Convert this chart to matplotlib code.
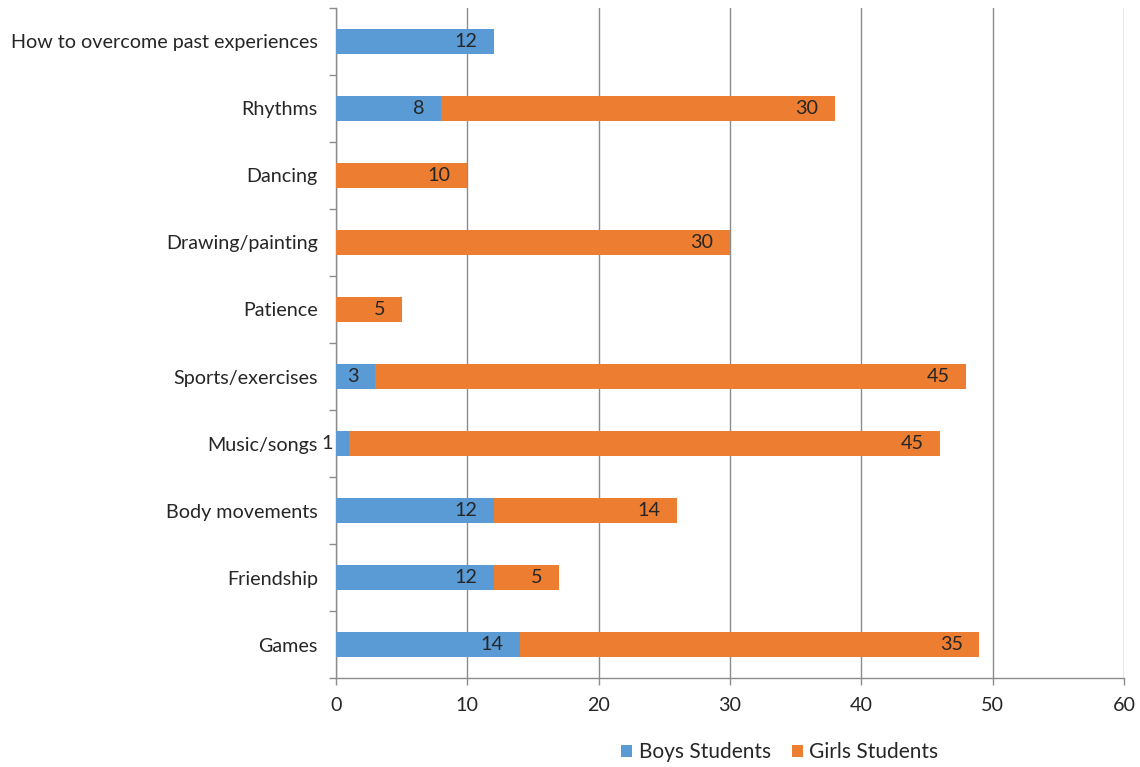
import matplotlib
matplotlib.use("Agg")
import matplotlib.pyplot as plt
import numpy as np

# categories listed bottom to top
categories = [
    "Games",
    "Friendship",
    "Body movements",
    "Music/songs",
    "Sports/exercises",
    "Patience",
    "Drawing/painting",
    "Dancing",
    "Rhythms",
    "How to overcome past experiences",
]
boys = [14, 12, 12, 1, 3, 0, 0, 0, 8, 12]
girls = [35, 5, 14, 45, 45, 5, 30, 10, 30, 0]
x_ticks = [0, 10, 20, 30, 40, 50, 60]

BLUE = "#5B9BD5"
ORANGE = "#ED7D31"
GRID = "#8c8c8c"
TEXT = "#262626"
FS = 14.2

plt.rcParams["font.family"] = ["Lato", "DejaVu Sans"]

fig = plt.figure(figsize=(11.4, 7.67), dpi=100)
ax = fig.add_axes([0.2947, 0.1160, 0.6912, 0.8736])

y = np.arange(len(categories))
bar_h = 0.375
b1 = ax.barh(y, boys, height=bar_h, color=BLUE, label="Boys Students", zorder=3)
b2 = ax.barh(y, girls, left=boys, height=bar_h, color=ORANGE, label="Girls Students", zorder=3)

# value labels sit just inside the end of each segment
for bars, vals in ((b1, boys), (b2, girls)):
    for rect, v in zip(bars, vals):
        if v == 0:
            continue
        x_end = rect.get_x() + rect.get_width()
        ax.annotate(str(v), xy=(x_end, rect.get_y() + rect.get_height() / 2),
                    xytext=(-12, 0), textcoords="offset points",
                    ha="right", va="center", fontsize=FS, color=TEXT, zorder=4)

ax.set_xlim(0, 60)
ax.set_ylim(-0.5, len(categories) - 0.5)
ax.set_xticks(x_ticks)
ax.set_yticks(y)
ax.set_yticklabels(categories)
ax.set_yticks(np.arange(-0.5, len(categories), 1.0), minor=True)

ax.tick_params(axis="y", which="major", length=0, pad=13, labelsize=FS, labelcolor=TEXT)
ax.tick_params(axis="y", which="minor", length=5, color=GRID, width=1)
ax.tick_params(axis="x", length=5, color=GRID, width=1, pad=9, labelsize=FS, labelcolor=TEXT)

ax.xaxis.grid(True, color=GRID, linewidth=1, zorder=0)
ax.set_axisbelow(True)
for side in ("top", "right"):
    ax.spines[side].set_visible(False)
for side in ("left", "bottom"):
    ax.spines[side].set_color(GRID)
    ax.spines[side].set_linewidth(1)

fig.legend(handles=[b1, b2], loc="center", bbox_to_anchor=(0.684, 0.019),
           ncol=2, frameon=False, fontsize=FS + 0.8, handlelength=0.55, handleheight=0.55,
           handletextpad=0.3, columnspacing=1.0, labelcolor=TEXT)

fig.savefig("out.png", dpi=100)
